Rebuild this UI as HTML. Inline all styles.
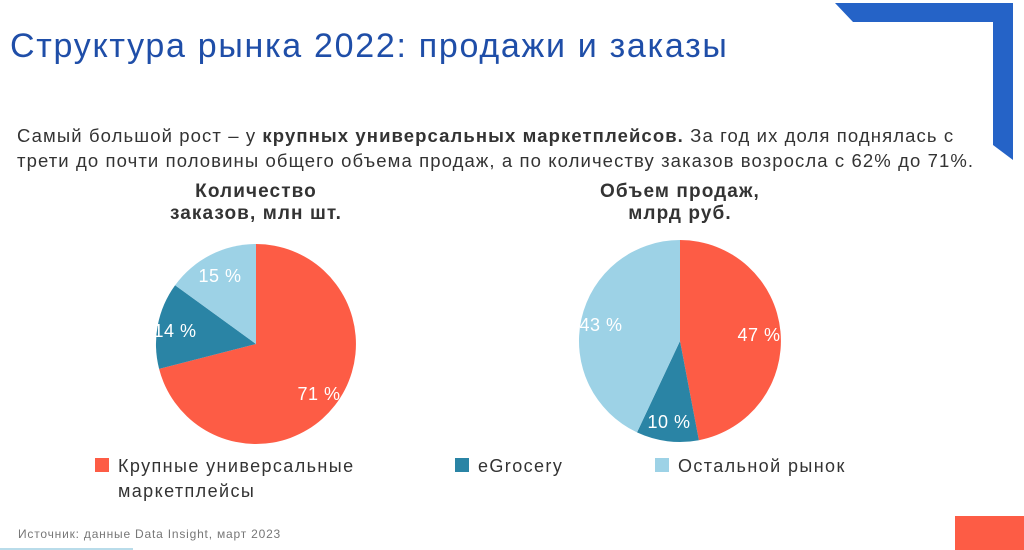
<!DOCTYPE html>
<html><head><meta charset="utf-8"><style>
body{margin:0;width:1024px;height:550px;background:#fff;position:relative;overflow:hidden;font-family:"Liberation Sans","DejaVu Sans",sans-serif}
.a{position:absolute;white-space:nowrap}
</style></head><body>
<svg class="a" style="left:0;top:0" width="1024" height="550">
<polygon points="835,3 1013,3 1013,160 993,145 993,22 853,22" fill="#2563c7"/>
<rect x="955" y="516" width="69" height="34" fill="#fd5c45"/>
<rect x="0" y="548" width="133" height="2" fill="#b9dcea"/>
<path d="M256,344 L256,244 A100,100 0 1,1 159.1,368.9 Z" fill="#fd5c45"/>
<path d="M256,344 L159.1,368.9 A100,100 0 0,1 175.1,285.2 Z" fill="#2a84a5"/>
<path d="M256,344 L175.1,285.2 A100,100 0 0,1 256,244 Z" fill="#9dd2e6"/>
<path d="M680,341 L680,240 A101,101 0 0,1 698.9,440.2 Z" fill="#fd5c45"/>
<path d="M680,341 L698.9,440.2 A101,101 0 0,1 637,432.4 Z" fill="#2a84a5"/>
<path d="M680,341 L637,432.4 A101,101 0 0,1 680,240 Z" fill="#9dd2e6"/>
<g fill="#fff" font-size="18" letter-spacing="0.5" font-family="Liberation Sans,sans-serif" text-anchor="middle">
<text x="220" y="282">15 %</text><text x="175" y="337">14 %</text><text x="319" y="400">71 %</text>
<text x="759" y="341">47 %</text><text x="669" y="428">10 %</text><text x="601" y="331">43 %</text>
</g>
<rect x="95" y="458" width="14" height="14" fill="#fd5c45"/>
<rect x="455" y="458" width="14" height="14" fill="#2a84a5"/>
<rect x="655" y="458" width="14" height="14" fill="#9dd2e6"/>
</svg>
<div class="a" style="left:10px;top:27px;font-size:34px;letter-spacing:1.7px;color:#1f4ea8">Структура рынка 2022: продажи и заказы</div>
<div class="a" style="left:17px;top:123px;font-size:18.5px;letter-spacing:1.1px;line-height:25px;color:#333">Самый большой рост – у <b>крупных универсальных маркетплейсов.</b> За год их доля поднялась с<br>трети до почти половины общего объема продаж, а по количеству заказов возросла с 62% до 71%.</div>
<div class="a" style="left:136px;width:240px;top:181px;text-align:center;font-size:19px;letter-spacing:1.1px;line-height:22px;font-weight:bold;color:#333">Количество<br>заказов, млн шт.</div>
<div class="a" style="left:560px;width:240px;top:181px;text-align:center;font-size:19px;letter-spacing:1.1px;line-height:22px;font-weight:bold;color:#333">Объем продаж,<br>млрд руб.</div>
<div class="a" style="left:118px;top:454px;font-size:18px;letter-spacing:1.4px;line-height:25px;color:#333">Крупные универсальные<br>маркетплейсы</div>
<div class="a" style="left:478px;top:454px;font-size:18px;letter-spacing:1.4px;line-height:25px;color:#333">eGrocery</div>
<div class="a" style="left:678px;top:454px;font-size:18px;letter-spacing:1.4px;line-height:25px;color:#333">Остальной рынок</div>
<div class="a" style="left:18px;top:527px;font-size:12px;letter-spacing:0.8px;color:#777">Источник: данные Data Insight, март 2023</div>
</body></html>
